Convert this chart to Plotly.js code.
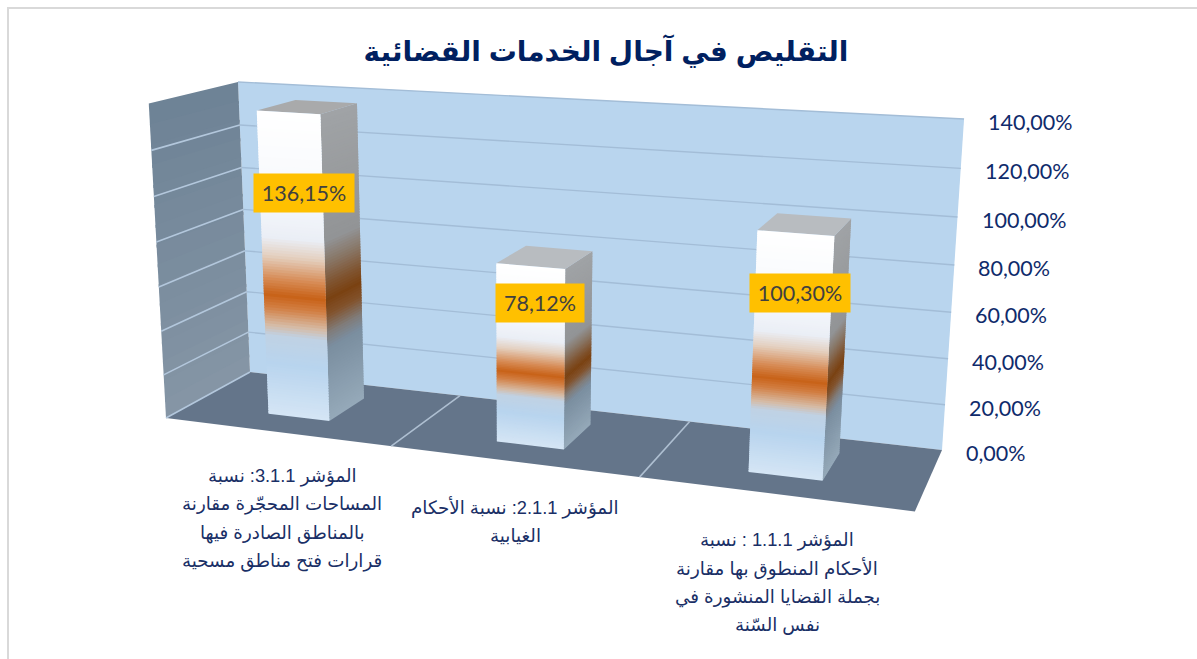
<!DOCTYPE html>
<html lang="ar"><head><meta charset="utf-8">
<script src="https://cdn.plot.ly/plotly-3.0.1.min.js"></script>
<style>html,body{margin:0;padding:0;background:#fff;overflow:hidden}#chart{width:1197px;height:659px}</style>
</head><body><div id="chart"></div>
<script>
// ---- data ----
const chartTitle = "التقليص في آجال الخدمات القضائية";
const categoryLines = [
  ["المؤشر 3.1.1: نسبة", "المساحات المحجّرة مقارنة", "بالمناطق الصادرة فيها", "قرارات فتح مناطق مسحية"],
  ["المؤشر 2.1.1: نسبة الأحكام", "الغيابية"],
  ["المؤشر 1.1.1 : نسبة", "الأحكام المنطوق بها مقارنة", "بجملة القضايا المنشورة في", "نفس السّنة"]
];
const values = [136.15, 78.12, 100.30];
const axisTicks = [0, 20, 40, 60, 80, 100, 120, 140];

// ---- layout of the label boxes and text (pixels) ----
const labelBoxCenters = [[304, 193], [540, 303], [800, 293]];
const labelBoxWidths = [100, 88, 100];
const categoryCenters = [[282, 476], [515, 507], [777, 540]];
const categoryLineStep = 28.3;

// ---- perspective of the 3D box ----
const O = [250, 372], B = [942, 450], D = [238, 82], E = [166, 418];
const wA = 0.8713, wB = 0.957, wC = 0.9194;
const axisMax = 140;
function project(u, v, d) {
  const w = 1 + u * (wA - 1) + v * (wB - 1) + d * (wC - 1);
  const x = O[0] + u * (wA * B[0] - O[0]) + v * (wB * D[0] - O[0]) + d * (wC * E[0] - O[0]);
  const y = O[1] + u * (wA * B[1] - O[1]) + v * (wB * D[1] - O[1]) + d * (wC * E[1] - O[1]);
  return [x / w, y / w];
}
const barHalf = 0.046, dBack = 0.255, dFront = 0.72;

// ---- styles ----
const frontStops = [[0, [255,255,255]], [0.28, [246,248,252]], [0.40, [234,238,245]], [0.46, [228,208,192]],
  [0.54, [214,136,80]], [0.59, [200,98,24]], [0.63, [210,126,66]], [0.69, [214,186,164]], [0.725, [192,210,228]],
  [0.82, [184,212,238]], [1, [214,230,245]]];
const sideStops = [[0, [160,163,166]], [0.40, [146,148,150]], [0.47, [136,118,102]], [0.54, [128,84,48]],
  [0.59, [122,66,18]], [0.64, [130,82,44]], [0.70, [128,124,122]], [0.75, [122,142,160]], [1, [150,170,186]]];
const wallStops = [[0, [110,131,150]], [1, [133,149,165]]];
function mix(stops, f) {
  for (let i = 1; i < stops.length; i++) {
    if (f <= stops[i][0]) {
      const t = (f - stops[i-1][0]) / (stops[i][0] - stops[i-1][0]);
      const c = stops[i-1][1].map((a, k) => Math.round(a + (stops[i][1][k] - a) * t));
      return `rgb(${c.join(",")})`;
    }
  }
  return `rgb(${stops[stops.length-1][1].join(",")})`;
}

const traces = [];
function poly(pts, color) {
  const xs = pts.map(p => p[0]); const ys = pts.map(p => p[1]);
  xs.push(xs[0]); ys.push(ys[0]);
  traces.push({type: "scatter", mode: "lines", x: xs, y: ys, fill: "toself", fillcolor: color,
    line: {width: 0, color: color}, hoverinfo: "skip", showlegend: false});
}
function seg(a, b, color, width) {
  traces.push({type: "scatter", mode: "lines", x: [a[0], b[0]], y: [a[1], b[1]],
    line: {color: color, width: width}, hoverinfo: "skip", showlegend: false});
}

// walls and floor
poly([project(0,0,0), project(1,0,0), project(1,1,0), project(0,1,0)], "#b9d5ee");
poly([project(0,0,0), project(1,0,0), project(1,0,1), project(0,0,1)], "#64758a");
const wallBands = 16;
for (let i = 0; i < wallBands; i++) {
  const v1 = 1 - i / wallBands, v0 = Math.max(0, 1 - (i + 1.15) / wallBands);
  poly([project(0,v0,0), project(0,v0,1), project(0,v1,1), project(0,v1,0)], mix(wallStops, i / (wallBands - 1)));
}
// grid lines
axisTicks.forEach(t => {
  const v = t / axisMax;
  if (t > 0) seg(project(0,v,0), project(1,v,0), "#a3bdd7", 1.4);
  if (t > 0 && t < axisMax) seg(project(0,v,1), project(0,v,0), "#b3c7dc", 1.6);
});
seg(project(0,0,1), project(0,0,0), "#b3c7dc", 1.6);
[1/3, 2/3].forEach(u => seg(project(u,0,0), project(u,0,1), "#aebfd1", 1.6));

// bars: side, top, then front face as stacked colour bands
const bandCount = 110;
values.forEach((val, i) => {
  const uc = (i + 0.5) / values.length, u0 = uc - barHalf, u1 = uc + barHalf, top = val / axisMax;
  for (let b = 0; b < bandCount; b++) {
    const f0 = b / bandCount, f1 = Math.min(1, (b + 1.6) / bandCount);
    const v0 = top * (1 - f0), v1 = top * (1 - f1);
    poly([project(u1,v0,dFront), project(u1,v0,dBack), project(u1,v1,dBack), project(u1,v1,dFront)], mix(sideStops, f0));
  }
  poly([project(u0,top,dFront), project(u1,top,dFront), project(u1,top,dBack), project(u0,top,dBack)], i === 0 ? "#a9aaab" : "#b8bcc0");
  for (let b = 0; b < bandCount; b++) {
    const f0 = b / bandCount, f1 = Math.min(1, (b + 1.6) / bandCount);
    const v0 = top * (1 - f0), v1 = top * (1 - f1);
    poly([project(u0,v0,dFront), project(u1,v0,dFront), project(u1,v1,dFront), project(u0,v1,dFront)], mix(frontStops, f0));
  }
});

const annotations = [];
// value axis labels
axisTicks.forEach(t => {
  const p = project(1, t / axisMax, 0);
  annotations.push({xref: "x", yref: "y", x: p[0] + 22, y: p[1] + 3, xanchor: "left", yanchor: "middle",
    showarrow: false, text: t.toFixed(2).replace(".", ",") + "%",
    font: {family: "Lato, sans-serif", size: 21.5, color: "#0f2b6b"}});
});
// value labels
values.forEach((val, i) => {
  annotations.push({xref: "x", yref: "y", x: labelBoxCenters[i][0], y: labelBoxCenters[i][1], xanchor: "center", yanchor: "middle",
    showarrow: false, width: labelBoxWidths[i], height: 38, bgcolor: "#ffc000", borderpad: 0,
    text: val.toFixed(2).replace(".", ",") + "%",
    font: {family: "Lato, sans-serif", size: 21.5, color: "#404040"}});
});
// category labels
categoryLines.forEach((lines, i) => {
  lines.forEach((line, k) => {
    annotations.push({xref: "x", yref: "y", x: categoryCenters[i][0], y: categoryCenters[i][1] + k * categoryLineStep,
      xanchor: "center", yanchor: "middle", showarrow: false, text: line,
      font: {family: "'Liberation Sans', 'DejaVu Sans', sans-serif", size: 18.3, color: "#1a2f66"}});
  });
});

const layout = {
  width: 1197, height: 659, margin: {l: 0, r: 0, t: 0, b: 0},
  paper_bgcolor: "#ffffff", plot_bgcolor: "#ffffff", showlegend: false,
  title: {text: "<b>" + chartTitle + "</b>", x: 606 / 1197, xanchor: "center", y: 1 - 51 / 659, yanchor: "middle",
    font: {family: "'Liberation Sans', 'DejaVu Sans', sans-serif", size: 28, color: "#002060"}},
  xaxis: {range: [0, 1197], visible: false, fixedrange: true},
  yaxis: {range: [659, 0], visible: false, fixedrange: true},
  shapes: [
    {type: "line", xref: "x", yref: "y", x0: 8, x1: 8, y0: 7, y1: 659, line: {color: "#d9d9d9", width: 2}},
    {type: "line", xref: "x", yref: "y", x0: 7, x1: 1197, y0: 8, y1: 8, line: {color: "#d9d9d9", width: 2}}
  ],
  annotations: annotations
};
Plotly.newPlot("chart", traces, layout, {displayModeBar: false, staticPlot: true});
</script>
</body></html>
